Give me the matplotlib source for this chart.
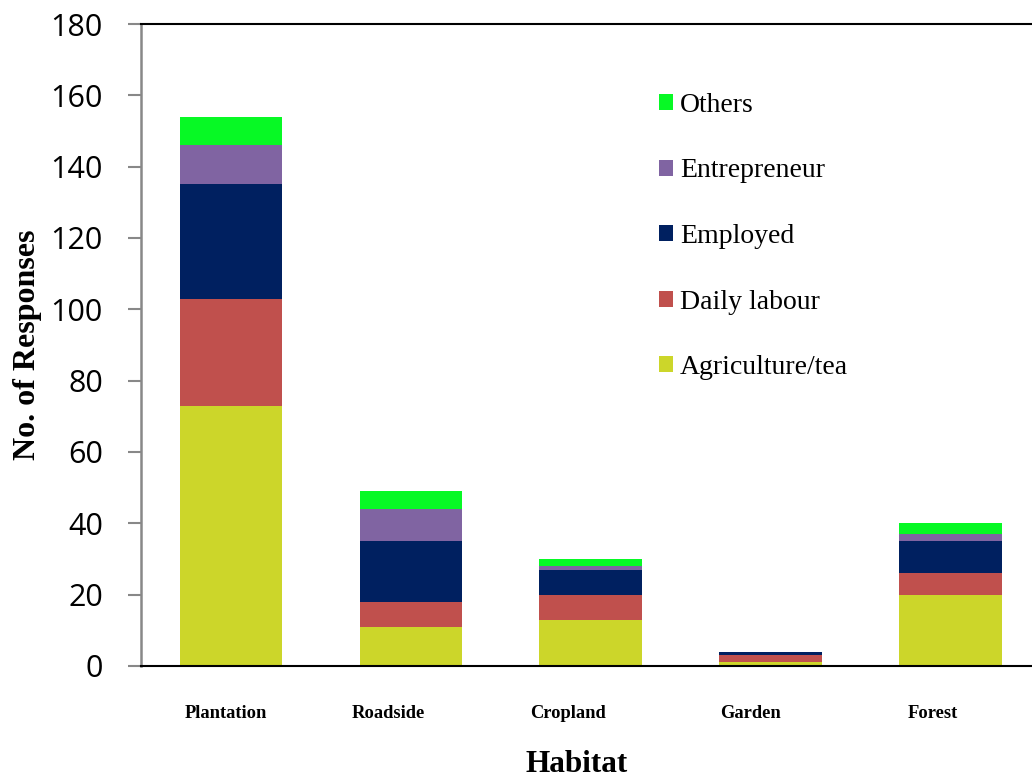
import matplotlib
matplotlib.use("Agg")
import matplotlib.pyplot as plt
import matplotlib.transforms as mtransforms
import numpy as np

# ---------- dados ----------
habitats = ["Plantation", "Roadside", "Cropland", "Garden", "Forest"]
series = ["Agriculture/tea", "Daily labour", "Employed", "Entrepreneur", "Others"]
agriculture = [73, 11, 13, 1, 20]
daily_labour = [30, 7, 7, 2, 6]
employed = [32, 17, 7, 1, 9]
entrepreneur = [11, 9, 1, 0, 2]
others = [8, 5, 2, 0, 3]
values = [agriculture, daily_labour, employed, entrepreneur, others]
colors = ["#CCD62A", "#C0504D", "#002060", "#8064A2", "#07F925"]
yticks = [0, 20, 40, 60, 80, 100, 120, 140, 160, 180]
label_shift_px = [-5, -23, -23, -20, -18]   # deslocamento horizontal dos rótulos x

fig = plt.figure(figsize=(10.32, 7.77), dpi=100)
ax = fig.add_axes([0.1366, 0.1429, 0.8716, 0.8262])

x = np.arange(len(habitats))
bottom = np.zeros(len(habitats))
handles = []
for name, vals, col in zip(series, values, colors):
    b = ax.bar(x, vals, width=0.57, bottom=bottom, color=col, label=name, zorder=2)
    handles.append(b)
    bottom += np.array(vals)

ax.set_xlim(-0.5, 4.5)
ax.set_ylim(0, 180)
ax.set_yticks(yticks)
ax.set_yticklabels([str(v) for v in yticks], fontsize=22, family="Open Sans")
ax.set_xticks(x)
ax.set_xticklabels(habitats, fontsize=13.3, family="Liberation Serif", fontweight="bold")
ax.tick_params(axis="x", length=0, pad=28)
ax.tick_params(axis="y", length=9.5, width=1.5, color="#888888", pad=18)
for lbl, dx in zip(ax.get_xticklabels(), label_shift_px):
    lbl.set_transform(lbl.get_transform()
                      + mtransforms.ScaledTranslation(dx / 100, 0, fig.dpi_scale_trans))

ax.spines["left"].set_color("#888888")
ax.spines["left"].set_linewidth(1.8)
ax.spines["bottom"].set_color("black")
ax.spines["bottom"].set_linewidth(1.5)
ax.spines["top"].set_color("black")
ax.spines["top"].set_linewidth(1.5)
ax.spines["right"].set_visible(False)

ax.set_xlabel("Habitat", fontsize=22.5, family="Liberation Serif",
              fontweight="bold", labelpad=20)
ax.xaxis.label.set_x(0.4842)
ax.set_ylabel("No. of Responses", fontsize=23, family="Liberation Serif",
              fontweight="bold", labelpad=6)

leg = ax.legend(handles[::-1], series[::-1], loc="upper left",
                bbox_to_anchor=(0.564, 0.91), frameon=False,
                prop={"family": "Liberation Serif", "size": 20},
                handlelength=0.5, handleheight=0.5, handletextpad=0.25,
                labelspacing=1.46, borderaxespad=0)

fig.savefig("out.png", dpi=100)
